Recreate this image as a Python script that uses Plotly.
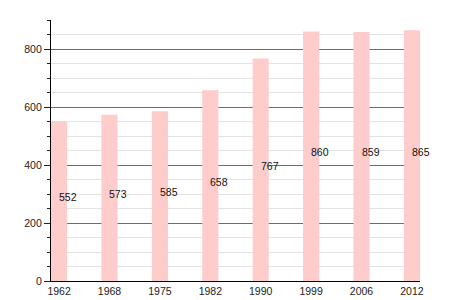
import plotly.graph_objects as go

years = ["1962", "1968", "1975", "1982", "1990", "1999", "2006", "2012"]
population = [552, 573, 585, 658, 767, 860, 859, 865]

fig = go.Figure()
fig.add_trace(go.Bar(
    x=years, y=population, width=0.32,
    marker=dict(color="#ffcccc", line=dict(width=0)),
    hoverinfo="x+y",
))

for i, v in enumerate(population):
    fig.add_annotation(x=i, y=v / 2, xref="x", yref="y", text=str(v), showarrow=False,
                       xanchor="left", yanchor="middle", xshift=-2, yshift=4,
                       font=dict(size=10.5, color="#111", family="Liberation Sans, Arial, sans-serif"))

fig.update_layout(
    template="none",
    width=450, height=300,
    margin=dict(l=51, r=30, t=20, b=19, pad=0),
    paper_bgcolor="white", plot_bgcolor="white",
    showlegend=False,
    font=dict(family="Liberation Sans, Arial, sans-serif", size=10.5, color="#222"),
    xaxis=dict(type="category", range=[-0.16, 7.16], showgrid=False, automargin=False,
               showline=True, linecolor="black", linewidth=1.2,
               ticks="", tickfont=dict(size=10.5, color="#222"), fixedrange=True),
    yaxis=dict(range=[0, 900], dtick=200, tick0=0, automargin=False,
               showgrid=True, gridcolor="#2a7fc0", gridwidth=1,
               showline=True, linecolor="black", linewidth=1.2,
               ticks="outside", ticklen=6, tickcolor="#222", tickwidth=1,
               zeroline=False,
               minor=dict(dtick=50, ticklen=3, tickcolor="#222", ticks="outside",
                          showgrid=True, gridcolor="#e3e3e3", gridwidth=1),
               tickfont=dict(size=10.5, color="#222"), fixedrange=True),
)

fig.write_html("out.html")
